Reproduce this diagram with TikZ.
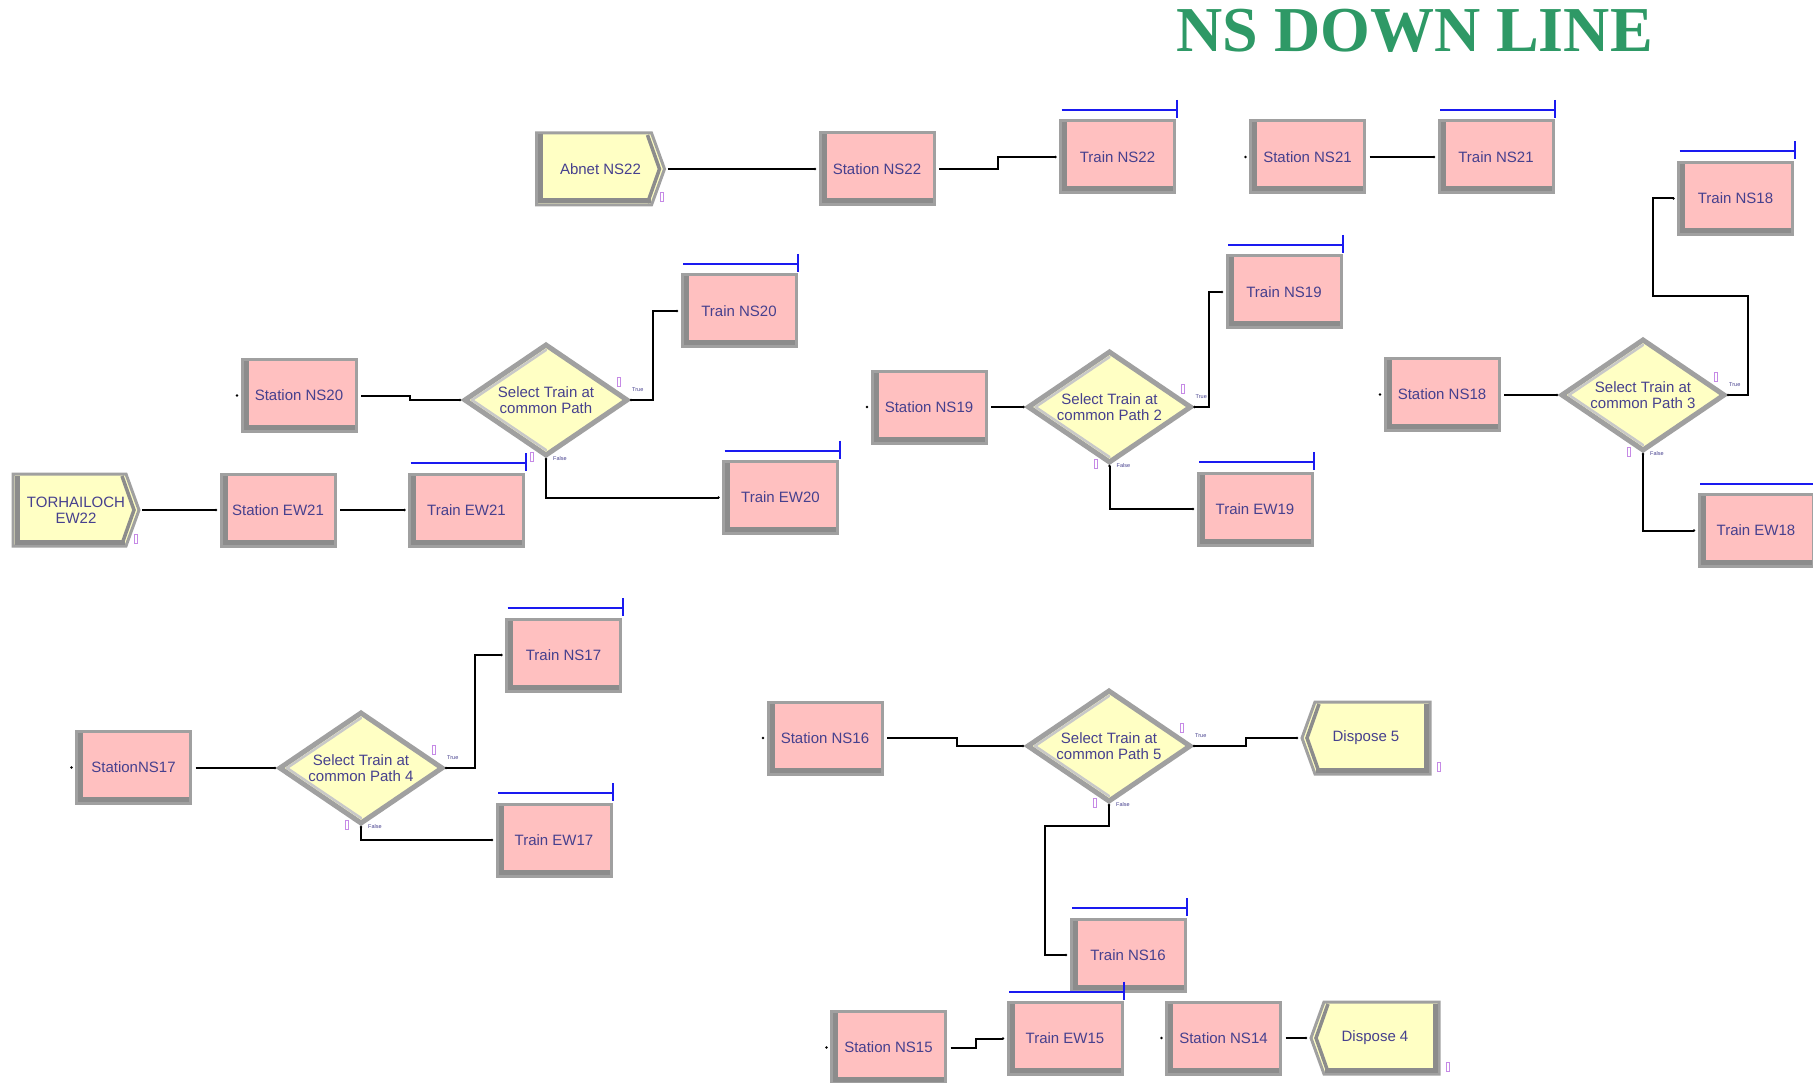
\documentclass[tikz,border=0pt]{standalone}
\usepackage{fontspec}
\setmainfont{Liberation Sans}
\newfontfamily\titlefont{Liberation Serif}
\usetikzlibrary{shapes.geometric,backgrounds,calc}

\definecolor{pinkfill}{HTML}{FFC0C0}
\definecolor{yellowfill}{HTML}{FFFFC4}
\definecolor{framegray}{HTML}{A0A0A0}
\definecolor{bevelgray}{HTML}{8C8C8C}
\definecolor{lightbevel}{HTML}{C8C8C8}
\definecolor{labelblue}{HTML}{46408E}
\definecolor{queueblue}{HTML}{1A1AF0}
\definecolor{titlegreen}{HTML}{2E9966}
\definecolor{countermark}{HTML}{C68AE6}

\tikzset{
  modtext/.style={font=\fontsize{15}{16}\selectfont, text=labelblue, align=center},
  procbox/.style={modtext, rectangle, minimum width=114pt, minimum height=72pt,
    inner sep=0pt, outer sep=0pt, fill=pinkfill, draw=framegray, line width=3pt},
  flowbox/.style={modtext, rectangle, minimum width=128pt, minimum height=72pt,
    inner sep=0pt, outer sep=0pt},
  decidebox/.style={modtext, diamond, aspect=1.47, minimum width=162pt, minimum height=110pt,
    inner sep=0pt, outer sep=0pt, fill=yellowfill, draw=framegray, line width=5pt},
  conn/.style={line width=2pt, black},
  queuebar/.style={line width=2pt, queueblue},
  tinytag/.style={font=\fontsize{5.5}{6}\selectfont, text=labelblue, inner sep=0pt},
  tally/.style={draw=countermark, line width=1pt},
}

% bevel strips on the left and bottom of a process box
\newcommand\boxbevel[1]{%
  \fill[bevelgray] ([xshift=1.5pt,yshift=-1.5pt]#1.north west) rectangle ([xshift=6.5pt,yshift=1.5pt]#1.south west);
  \fill[bevelgray] ([xshift=1.5pt,yshift=1.5pt]#1.south west) rectangle ([xshift=-1.5pt,yshift=6.5pt]#1.south east);}

% create module: box with a pointed right side
\newcommand\createshape[1]{%
  \begin{scope}[on background layer]
    \filldraw[fill=yellowfill, draw=framegray, line width=3pt]
      (#1.north west) -- ([xshift=-13pt]#1.north east) -- (#1.east)
      -- ([xshift=-13pt]#1.south east) -- (#1.south west) -- cycle;
    \fill[bevelgray] ([xshift=1.5pt,yshift=-1.5pt]#1.north west) rectangle ([xshift=6.5pt,yshift=1.5pt]#1.south west);
    \fill[bevelgray] ([xshift=1.5pt,yshift=1.5pt]#1.south west) rectangle ([xshift=-14pt,yshift=6.5pt]#1.south east);
    \draw[bevelgray, line width=3.5pt]
      ([xshift=-17pt,yshift=-2pt]#1.north east) -- ([xshift=-5pt]#1.east) -- ([xshift=-17pt,yshift=2pt]#1.south east);
  \end{scope}
  \draw[tally] ([xshift=-4.5pt,yshift=-24pt]#1.east) rectangle ([xshift=-1.5pt,yshift=-33pt]#1.east);}

% dispose module: box with a pointed left side
\newcommand\disposeshape[1]{%
  \begin{scope}[on background layer]
    \filldraw[fill=yellowfill, draw=framegray, line width=3pt]
      ([xshift=13pt]#1.north west) -- (#1.north east) -- (#1.south east)
      -- ([xshift=13pt]#1.south west) -- (#1.west) -- cycle;
    \fill[bevelgray] ([xshift=-1.5pt,yshift=-1.5pt]#1.north east) rectangle ([xshift=-6.5pt,yshift=1.5pt]#1.south east);
    \fill[bevelgray] ([xshift=14pt,yshift=1.5pt]#1.south west) rectangle ([xshift=-1.5pt,yshift=6.5pt]#1.south east);
    \draw[bevelgray, line width=3.5pt]
      ([xshift=17pt,yshift=-2pt]#1.north west) -- ([xshift=5pt]#1.west) -- ([xshift=17pt,yshift=2pt]#1.south west);
  \end{scope}
  \draw[tally] ([xshift=7.5pt,yshift=3pt]#1.south east) rectangle ([xshift=10.5pt,yshift=12pt]#1.south east);}

% inner light edges, exit points, counters and branch tags of a decide module
\newcommand\decidedetail[1]{%
  \draw[lightbevel, line width=2.5pt, line cap=round] ([xshift=7pt]#1.west) -- ([yshift=-5pt]#1.north);
  \draw[lightbevel, line width=2.5pt, line cap=round] ([xshift=7pt]#1.west) -- ([yshift=5pt]#1.south);
  \fill ([xshift=4pt]#1.east) circle[radius=1.4pt];
  \fill ([yshift=-4pt]#1.south) circle[radius=1.4pt];
  \draw[tally] ([xshift=-9.5pt,yshift=14pt]#1.east) rectangle ([xshift=-6.5pt,yshift=23pt]#1.east);
  \draw[tally] ([xshift=-15.5pt,yshift=2.5pt]#1.south) rectangle ([xshift=-12.5pt,yshift=-6.5pt]#1.south);
  \node[tinytag, anchor=west] (#1-true) at ([xshift=5pt,yshift=10pt]#1.east) {True};
  \node[tinytag, anchor=west] (#1-false) at ([xshift=7pt,yshift=-4pt]#1.south) {False};}

% entry point of a module
\newcommand\entrydot[1]{\fill ([xshift=-5pt]#1.west) circle[radius=1.4pt];}

% animation queue line above a process box
\newcommand\queueline[1]{%
  \draw[queuebar] ([xshift=1pt,yshift=11pt]#1.north west) -- ([xshift=2pt,yshift=11pt]#1.north east);
  \draw[queuebar] ([xshift=2pt,yshift=21pt]#1.north east) -- ([xshift=2pt,yshift=3pt]#1.north east);}

\begin{document}
\begin{tikzpicture}[x=1pt,y=-1pt]
\begin{scope}[on background layer]
  \fill[white] (0,0) rectangle (1813,1083);
\end{scope}
\useasboundingbox (0,0) rectangle (1813,1083);

\node[font=\titlefont\fontsize{64}{70}\bfseries\selectfont, text=titlegreen, anchor=base, inner sep=0pt]
  (title) at (1414.5,52) {NS DOWN LINE};

% modules
\node[flowbox] (crNS22) at (600.5,169) {Abnet NS22};
\node[procbox] (stNS22) at (877,169) {Station NS22};
\node[procbox] (trNS22) at (1117.5,157) {Train NS22};
\node[procbox] (stNS21) at (1307.5,157) {Station NS21};
\node[procbox] (trNS21) at (1496,157) {Train NS21};
\node[procbox] (trNS18) at (1735.5,198.5) {Train NS18};

\node[procbox] (stNS20) at (299,395.5) {Station NS20};
\node[decidebox] (selA) at (546,400) {Select Train at\\common Path};
\node[procbox] (trNS20) at (739,311) {Train NS20};
\node[procbox] (trEW20) at (780.5,497.5) {Train EW20};
\node[flowbox, minimum width=126pt] (crEW22) at (76,510) {TORHAILOCH\\EW22};
\node[procbox] (stEW21) at (278,510) {Station EW21};
\node[procbox] (trEW21) at (466.5,510) {Train EW21};

\node[procbox] (stNS19) at (929,407) {Station NS19};
\node[decidebox] (selB) at (1109.5,407) {Select Train at\\common Path 2};
\node[procbox] (trNS19) at (1284,292) {Train NS19};
\node[procbox] (trEW19) at (1255,509) {Train EW19};

\node[procbox] (stNS18) at (1442,394.5) {Station NS18};
\node[decidebox] (selC) at (1643,395) {Select Train at\\common Path 3};
\node[procbox] (trEW18) at (1756,530.5) {Train EW18};

\node[procbox] (stNS17) at (133.5,767.5) {StationNS17};
\node[decidebox] (selD) at (361,768) {Select Train at\\common Path 4};
\node[procbox] (trNS17) at (563.5,655) {Train NS17};
\node[procbox] (trEW17) at (554,840) {Train EW17};

\node[procbox] (stNS16) at (825,738) {Station NS16};
\node[decidebox] (selE) at (1109,746) {Select Train at\\common Path 5};
\node[flowbox] (dpFive) at (1366,738) {Dispose 5};
\node[procbox] (trNS16) at (1128,955) {Train NS16};
\node[procbox] (stNS15) at (888.5,1047.5) {Station NS15};
\node[procbox] (trEW15) at (1065,1038.5) {Train EW15};
\node[procbox] (stNS14) at (1223.5,1038) {Station NS14};
\node[flowbox] (dpFour) at (1375,1038) {Dispose 4};

% module frames
\createshape{crNS22}
\createshape{crEW22}
\disposeshape{dpFive}
\disposeshape{dpFour}
\foreach \m in {stNS22,trNS22,stNS21,trNS21,trNS18,stNS20,trNS20,trEW20,stEW21,trEW21,
                stNS19,trNS19,trEW19,stNS18,trEW18,stNS17,trNS17,trEW17,stNS16,trNS16,
                stNS15,trEW15,stNS14}{\boxbevel{\m}}
\foreach \m in {selA,selB,selC,selD,selE}{\decidedetail{\m}}

% entry points
\foreach \m in {stNS22,trNS22,stNS21,trNS21,trNS18,stNS20,trNS20,trEW20,stEW21,trEW21,
                stNS19,trNS19,trEW19,stNS18,trEW18,stNS17,trNS17,trEW17,stNS16,trNS16,
                stNS15,trEW15,stNS14,selA,selB,selC,selD,selE,dpFive,dpFour}{\entrydot{\m}}

% connectors
\draw[conn] ([xshift=3pt]crNS22.east) -- ([xshift=-5pt]stNS22.west);
\draw[conn] ([xshift=5pt]stNS22.east) -- ++(59,0) |- ([xshift=-5pt]trNS22.west);
\draw[conn] ([xshift=5pt]stNS21.east) -- ([xshift=-5pt]trNS21.west);
\draw[conn] ([xshift=5pt]stNS20.east) -- ++(49,0) |- ([xshift=-5pt]selA.west);
\draw[conn] ([xshift=4pt]selA.east) -- ++(22,0) |- ([xshift=-5pt]trNS20.west);
\draw[conn] ([yshift=-4pt]selA.south) |- ([xshift=-5pt]trEW20.west);
\draw[conn] ([xshift=3pt]crEW22.east) -- ([xshift=-5pt]stEW21.west);
\draw[conn] ([xshift=5pt]stEW21.east) -- ([xshift=-5pt]trEW21.west);
\draw[conn] ([xshift=5pt]stNS19.east) -- ([xshift=-5pt]selB.west);
\draw[conn] ([xshift=4pt]selB.east) -- ++(14,0) |- ([xshift=-5pt]trNS19.west);
\draw[conn] ([yshift=-4pt]selB.south) |- ([xshift=-5pt]trEW19.west);
\draw[conn] ([xshift=5pt]stNS18.east) -- ++(25,0) |- ([xshift=-5pt]selC.west);
\draw[conn] ([xshift=4pt]selC.east) -| (1748,296) -- (1653,296) |- ([xshift=-5pt]trNS18.west);
\draw[conn] ([yshift=-4pt]selC.south) |- ([xshift=-5pt]trEW18.west);
\draw[conn] ([xshift=5pt]stNS17.east) -- ++(40,0) |- ([xshift=-5pt]selD.west);
\draw[conn] ([xshift=4pt]selD.east) -- ++(29,0) |- ([xshift=-5pt]trNS17.west);
\draw[conn] ([yshift=-4pt]selD.south) |- ([xshift=-5pt]trEW17.west);
\draw[conn] ([xshift=5pt]stNS16.east) -- ++(70,0) |- ([xshift=-5pt]selE.west);
\draw[conn] ([xshift=4pt]selE.east) -- ++(52,0) |- ([xshift=-5pt]dpFive.west);
\draw[conn] ([yshift=-4pt]selE.south) |- (1045,826) |- ([xshift=-5pt]trNS16.west);
\draw[conn] ([xshift=5pt]stNS15.east) -- ++(25,0) |- ([xshift=-5pt]trEW15.west);
\draw[conn] ([xshift=5pt]stNS14.east) -- ([xshift=-5pt]dpFour.west);

% queue lines
\foreach \m in {trNS22,trNS21,trNS18,trNS20,trEW20,trEW21,trNS19,trEW19,trEW18,
                trNS17,trEW17,trNS16,trEW15}{\queueline{\m}}
\end{tikzpicture}
\end{document}
